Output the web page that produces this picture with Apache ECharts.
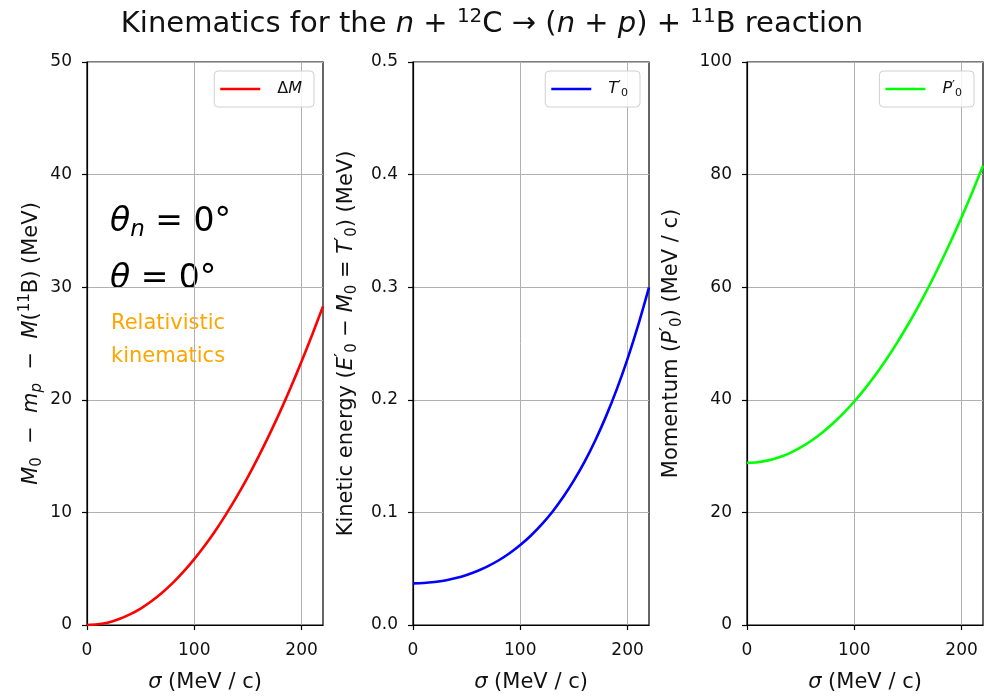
<!DOCTYPE html>
<html>
<head>
<meta charset="utf-8">
<script src="https://cdn.jsdelivr.net/npm/echarts@6/dist/echarts.min.js"></script>
<style>html,body{margin:0;padding:0;background:#fff}#c{width:984px;height:698px}</style>
</head>
<body>
<div id="c"></div>
<script>
// sigma (MeV/c)
const sigma = [0,10,20,30,40,50,60,70,80,90,100,110,120,130,140,150,160,170,180,190,200,210,220];
// Delta M (MeV)
const deltaM = [0,0.06,0.23,0.53,0.94,1.46,2.11,2.87,3.74,4.74,5.85,7.08,8.42,9.89,11.47,13.16,14.98,16.91,18.95,21.12,23.4,25.8,28.3];
// Kinetic energy T0' (MeV)
const kineticT = [0.0370,0.0373,0.0382,0.0396,0.0417,0.0445,0.0480,0.0523,0.0575,0.0637,0.0710,0.0795,0.0893,0.1006,0.1136,0.1284,0.1451,0.1641,0.1855,0.2095,0.2364,0.2665,0.2998];
// Momentum P0' (MeV/c)
const momentumP = [28.8,28.91,29.24,29.78,30.54,31.53,32.72,34.14,35.78,37.63,39.70,41.99,44.50,47.22,50.16,53.33,56.70,60.30,64.12,68.15,72.40,76.87,81.56];
const xTicks = [0,100,200];

const SANS = '"DejaVu Sans", sans-serif';
const DV = '"DejaVu Sans", sans-serif';
const textColor = '#111';

const chart = echarts.init(document.getElementById('c'), null, {renderer: 'canvas'});

const grids = [
  {left: 87, top: 62, width: 236, height: 568},
  {left: 413, top: 62, width: 236, height: 568},
  {left: 747, top: 62, width: 236, height: 568}
];

function mathRich(fs) {
  const s = Math.round(fs * 0.7);
  return {
    r: {fontFamily: SANS, fontWeight: 'normal', fontSize: fs, color: textColor, lineHeight: fs + 6},
    m: {fontFamily: DV, fontWeight: 'normal', fontSize: fs, color: textColor, lineHeight: fs + 6},
    i: {fontFamily: DV, fontWeight: 'normal', fontStyle: 'italic', fontSize: fs, color: textColor, lineHeight: fs + 6},
    sub: {fontFamily: DV, fontWeight: 'normal', fontSize: s, color: textColor, verticalAlign: 'bottom', lineHeight: s},
    subi: {fontFamily: DV, fontWeight: 'normal', fontStyle: 'italic', fontSize: s, color: textColor, verticalAlign: 'bottom', lineHeight: s},
    sup: {fontFamily: DV, fontWeight: 'normal', fontSize: s, color: textColor, verticalAlign: 'top', lineHeight: s},
    pr: {fontFamily: DV, fontWeight: 'normal', fontSize: Math.round(fs * 0.85), color: textColor, verticalAlign: 'top', lineHeight: Math.round(fs * 0.85)}
  };
}

const xAxisBase = (gi) => ({
  type: 'value', gridIndex: gi, min: 0, max: 220, interval: 100,
  name: '{i|σ}{r| (MeV / c)}', nameLocation: 'middle', nameGap: 44,
  nameTextStyle: {rich: mathRich(21)},
  axisLine: {show: true, onZero: false, lineStyle: {color: '#000', width: 1.2}},
  axisTick: {show: true, length: 5, lineStyle: {color: '#000', width: 1.2}, customValues: xTicks},
  axisLabel: {color: textColor, fontFamily: SANS, fontSize: 17, margin: 17, customValues: xTicks},
  splitLine: {show: true, lineStyle: {color: '#b0b0b0', width: 1}}
});

const yNames = [
  '{i|M}{sub|0}{m|  −  }{i|m}{subi|p}{m|  −  }{i|M}{m|(}{sup|11}{m|B)}{r| (MeV)}',
  '{r|Kinetic energy (}{i|E}{pr|′}{sub|0}{m| − }{i|M}{sub|0}{m| = }{i|T}{pr|′}{sub|0}{r|) (MeV)}',
  '{r|Momentum (}{i|P}{pr|′}{sub|0}{r|) (MeV / c)}'
];
const yCfg = [
  {max: 50, interval: 10, gap: 42, fmt: v => String(v)},
  {max: 0.5, interval: 0.1, gap: 53, fmt: v => v.toFixed(1)},
  {max: 100, interval: 20, gap: 62, fmt: v => String(v)}
];

const yAxes = yCfg.map((c, gi) => ({
  type: 'value', gridIndex: gi, min: 0, max: c.max, interval: c.interval,
  name: yNames[gi], nameLocation: 'middle', nameRotate: 90, nameGap: c.gap,
  nameTextStyle: {rich: mathRich(21)},
  axisLine: {show: true, onZero: false, lineStyle: {color: '#000', width: 1.2}},
  axisTick: {show: true, length: 5, lineStyle: {color: '#000', width: 1.2}},
  axisLabel: {color: textColor, fontFamily: SANS, fontSize: 17, margin: 15, formatter: c.fmt},
  splitLine: {show: true, lineStyle: {color: '#b0b0b0', width: 1}}
}));

const seriesNames = ['ΔM', "T0'", "P0'"];
const legendFmt = ['{d|Δ}{i|M}', '{i|T}{pr|′}{sub|0}', '{i|P}{pr|′}{sub|0}'];
const colors = ['#ff0000', '#0000ff', '#00ff00'];
const values = [deltaM, kineticT, momentumP];

const legendRich = {
  d: {fontFamily: DV, fontSize: 16, color: textColor, lineHeight: 20},
  i: {fontFamily: DV, fontStyle: 'italic', fontSize: 16, color: textColor, lineHeight: 20},
  sub: {fontFamily: DV, fontSize: 11, color: textColor, verticalAlign: 'bottom', lineHeight: 11},
  pr: {fontFamily: DV, fontSize: 13, color: textColor, verticalAlign: 'top', lineHeight: 13}
};

const legends = grids.map((g, gi) => ({
  data: [seriesNames[gi]],
  right: 984 - (g.left + g.width) + 9,
  top: g.top + 9,
  orient: 'vertical',
  icon: 'rect', itemWidth: 40, itemHeight: 2.5,
  padding: [8, 10, 8, 6],
  borderColor: '#d0d0d0', borderWidth: 1, borderRadius: 4,
  backgroundColor: 'rgba(255,255,255,0.85)',
  formatter: () => legendFmt[gi],
  textStyle: {rich: legendRich, padding: [0, 2, 0, 12], lineHeight: 20}
}));

const series = values.map((vals, gi) => ({
  name: seriesNames[gi], type: 'line', xAxisIndex: gi, yAxisIndex: gi,
  data: sigma.map((s, k) => [s, vals[k]]),
  showSymbol: false, symbol: 'none', smooth: 0.3,
  lineStyle: {color: colors[gi], width: 2.6}, itemStyle: {color: colors[gi]},
  z: 3
}));

const annRich = {
  ti: {fontFamily: DV, fontStyle: 'italic', fontSize: 33, fill: '#000', lineHeight: 38},
  tm: {fontFamily: DV, fontSize: 33, fill: '#000', lineHeight: 38},
  ts: {fontFamily: DV, fontStyle: 'italic', fontSize: 23, fill: '#000', verticalAlign: 'bottom', lineHeight: 23}
};

const option = {
  backgroundColor: '#fff',
  animation: false,
  title: {
    text: '{r|Kinematics for the }{i|n}{m| + }{sup|12}{m|C → (}{i|n}{m| + }{i|p}{m|) + }{sup|11}{m|B}{r| reaction}',
    left: 'center', top: 2,
    textStyle: {fontWeight: 'normal', rich: mathRich(29)}
  },
  grid: grids.map(g => Object.assign({show: true, borderColor: '#000', borderWidth: 1.2, backgroundColor: 'transparent', containLabel: false}, g)),
  xAxis: [xAxisBase(0), xAxisBase(1), xAxisBase(2)],
  yAxis: yAxes,
  legend: legends,
  series: series,
  graphic: [
    {type: 'text', left: 110, top: 206, style: {text: '{ti|θ}{ts|n}{tm| = 0°}', rich: annRich}},
    {type: 'text', left: 110, top: 263, style: {text: '{ti|θ}{tm| = 0°}', rich: annRich}},
    {type: 'text', left: 111, top: 307, style: {text: 'Relativistic\nkinematics', fill: '#ffa500', fontFamily: SANS, fontSize: 21, lineHeight: 33}}
  ]
};
chart.setOption(option);
</script>
</body>
</html>
